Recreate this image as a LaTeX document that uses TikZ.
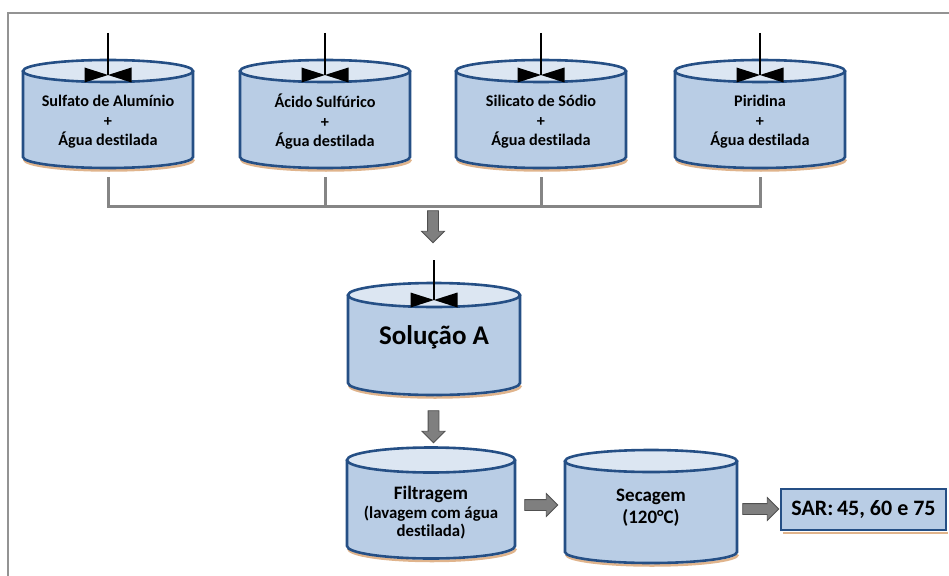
\documentclass[tikz,border=0pt]{standalone}
\usepackage{fontspec}
\setmainfont{Carlito}[Ligatures=NoCommon]
\usetikzlibrary{shapes.arrows}

\definecolor{tankblue}{HTML}{B9CDE5}
\definecolor{tanklight}{HTML}{DCE6F2}
\definecolor{tankline}{HTML}{254F85}
\definecolor{tankshade}{HTML}{E0B48C}
\definecolor{pipegray}{HTML}{858585}
\definecolor{arrowgray}{HTML}{7F7F7F}
\definecolor{arrowline}{HTML}{505050}

\tikzset{
  tank/.style={rectangle, inner sep=0pt, outer sep=0pt},
  tanktext/.style={align=center, font=\bfseries\fontsize{16.2}{19.5}\selectfont},
  shade/.style={draw=tankshade, line width=2.5pt},
  body/.style={fill=tankblue, draw=tankline, line width=2.6pt},
  lid/.style={fill=tanklight, draw=tankline, line width=2.6pt},
  stem/.style={black, line width=1.8pt},
  pipe/.style={pipegray, line width=3pt},
  blockarrow/.style={single arrow, draw=arrowline, fill=arrowgray, line width=0.8pt,
    inner xsep=0pt, inner ysep=5pt, outer sep=0pt, text height=0pt, text depth=0pt,
    single arrow head extend=6pt, single arrow head indent=0pt},
}

% cylinder round a tank node: node, x radius, y radius
\newcommand{\drawtank}[3]{%
  \draw[shade] ([shift={(1pt,-2.5pt)}]#1.south west)
    arc[start angle=180, end angle=360, x radius=#2pt, y radius=#3pt];
  \filldraw[body] (#1.north west) -- (#1.south west)
    arc[start angle=180, end angle=360, x radius=#2pt, y radius=#3pt] -- (#1.north east);
  \filldraw[lid] (#1.north) ellipse[x radius=#2pt, y radius=#3pt];
}
% valve with its stem
\newcommand{\drawvalve}[2]{%
  \draw[stem] ([yshift=#2pt]#1) -- (#1);
  \fill ([shift={(-23.5pt,7.5pt)}]#1) -- (#1) -- ([shift={(-23.5pt,-7.5pt)}]#1) -- cycle;
  \fill ([shift={(23.5pt,7.5pt)}]#1) -- (#1) -- ([shift={(23.5pt,-7.5pt)}]#1) -- cycle;
}

\begin{document}
\begin{tikzpicture}[x=1pt, y=-1pt]
    \useasboundingbox (0,0) rectangle (949,575);
    \draw[gray!85, line width=2pt] (8,576) -- (8,13) -- (950,13);

    % the four feed tanks
    \foreach \n/\x/\txt in {1/108/{Sulfato de Alumínio}, 2/325/{Ácido Sulfúrico},
                           3/541/{Silicato de Sódio}, 4/760/{Piridina}}
    {
        \node[tank, minimum width=170pt, minimum height=86pt] (t\n) at (\x,114) {};
        \drawtank{t\n}{85}{11}
        \coordinate (v\n) at ([yshift=-4pt]t\n.north);
        \drawvalve{v\n}{42}
        \node[tanktext] (l\n) at (\x,122) {\txt\\+\\Água destilada};
    }

    % collecting line
    \draw[pipe] ([yshift=-20pt]t1.south) -- ([yshift=-49pt]t1.south)
        -- ([yshift=-49pt]t4.south) -- ([yshift=-20pt]t4.south);
    \draw[pipe] ([yshift=-20pt]t2.south) -- ([yshift=-49pt]t2.south);
    \draw[pipe] ([yshift=-20pt]t3.south) -- ([yshift=-49pt]t3.south);

    \node[blockarrow, minimum height=32pt, rotate=-90] (a1) at (433,224) {};

    % solution A
    \node[tank, minimum width=172pt, minimum height=88pt] (sa) at (434,339) {};
    \drawtank{sa}{86}{12}
    \coordinate (vsa) at ([yshift=-5pt]sa.north);
    \drawvalve{vsa}{40}
    \node[font=\bfseries\fontsize{27}{30}\selectfont] (lsa) at (434,337) {Solução A};

    \node[blockarrow, minimum height=32pt, rotate=-90] (a2) at (433.5,424) {};

    % filtering
    \node[tank, minimum width=168pt, minimum height=86pt] (fi) at (431,503) {};
    \drawtank{fi}{84}{12.5}
    \node[align=center, font=\bfseries\fontsize{16.8}{18.5}\selectfont] (lfi) at (431,513)
        {{\fontsize{19}{21}\selectfont Filtragem}\\(lavagem com água\\destilada)};

    \node[blockarrow, minimum height=33pt] (a3) at (538.5,505) {};

    % drying
    \node[tank, minimum width=172pt, minimum height=91pt] (se) at (651,506.5) {};
    \drawtank{se}{86}{11}
    \node[align=center, font=\bfseries\fontsize{19}{22}\selectfont] (lse) at (651,508)
        {Secagem\\(120°C)};

    \node[blockarrow, minimum height=36pt] (a4) at (758,509) {};

    % result
    \draw[shade] (783,533) -- (948,533);
    \node[body, minimum width=165pt, minimum height=41pt, inner sep=0pt,
          font=\bfseries\fontsize{22}{24}\selectfont] (sar) at (863.5,509.5) {SAR:\,45, 60 e 75};
\end{tikzpicture}
\end{document}
